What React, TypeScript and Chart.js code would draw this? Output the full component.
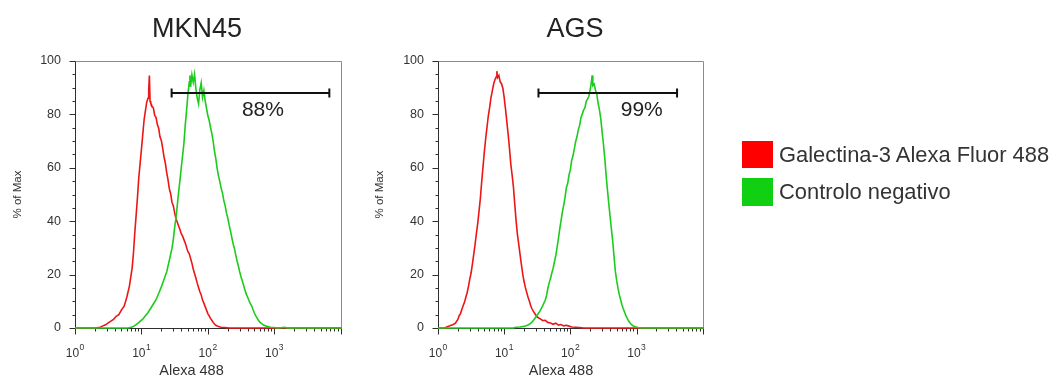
import React, { useEffect, useRef } from "react";
import { Chart, registerables } from "chart.js";

Chart.register(...registerables);

// ---------- text ----------
const PANEL_TITLES = ["MKN45", "AGS"];
const SERIES_NAMES = ["Galectina-3 Alexa Fluor 488", "Controlo negativo"];
const X_AXIS_TITLE = "Alexa 488";
const Y_AXIS_TITLE = "% of Max";

// ---------- axes ----------
const X_TICK_EXPONENTS = [0, 1, 2, 3];
const X_MIN_EXP = 0;
const X_MAX_EXP = 4.02;
const Y_MIN = 0;
const Y_MAX = 100;
const Y_LABEL_STEP = 20;
const Y_MINOR_STEP = 5;

// ---------- histograms: [log10(Alexa 488), % of Max] ----------
const MKN45_GALECTINA: [number, number][] = [
  [0, 0], [0.3, 0], [0.38, 0.3], [0.42, 0.8], [0.46, 1.2], [0.5, 1.9], [0.54, 2.6], [0.58, 3.2],
  [0.62, 4.4], [0.66, 5.0], [0.7, 6.8], [0.74, 8.2], [0.78, 11.5], [0.82, 15.8], [0.86, 22.4],
  [0.88, 28], [0.9, 35.6], [0.92, 42.1], [0.94, 48.8], [0.96, 56.2], [0.98, 61.5], [1.0, 66.8],
  [1.02, 72.4], [1.04, 77.9], [1.06, 81.3], [1.08, 84.6], [1.1, 86.1], [1.11, 89.5], [1.12, 94.6],
  [1.13, 85.0], [1.14, 84.2], [1.16, 83.1], [1.18, 82.4], [1.2, 79.6], [1.22, 78.9], [1.24, 76.2],
  [1.26, 74.8], [1.28, 71.5], [1.3, 70.2], [1.32, 67.4], [1.34, 64.1], [1.36, 61.8], [1.38, 58.3],
  [1.4, 55.6], [1.42, 52.2], [1.44, 50.3], [1.46, 47.1], [1.48, 45.8], [1.5, 43.2], [1.52, 41.0],
  [1.54, 39.6], [1.56, 38.2], [1.58, 36.9], [1.6, 35.3], [1.62, 34.4], [1.64, 33.1], [1.66, 31.8],
  [1.68, 30.2], [1.7, 28.6], [1.72, 27.9], [1.74, 26.0], [1.76, 24.3], [1.78, 22.1], [1.8, 20.4],
  [1.82, 18.7], [1.84, 16.8], [1.86, 15.2], [1.88, 13.6], [1.9, 12.4], [1.92, 10.5], [1.94, 9.3],
  [1.96, 8.0], [1.98, 6.7], [2.0, 5.4], [2.02, 4.5], [2.04, 3.6], [2.06, 2.9], [2.08, 2.1],
  [2.1, 1.5], [2.12, 1.0], [2.16, 0.6], [2.2, 0.3], [2.26, 0.2], [2.32, 0], [4.02, 0],
];

const MKN45_CONTROLO: [number, number][] = [
  [0, 0], [0.8, 0], [0.86, 0.4], [0.9, 0.9], [0.94, 1.6], [0.98, 2.5], [1.02, 3.3], [1.06, 4.6],
  [1.1, 5.8], [1.14, 7.4], [1.18, 9.0], [1.22, 10.6], [1.26, 12.9], [1.3, 15.4], [1.34, 18.2],
  [1.38, 21.0], [1.42, 25.3], [1.46, 29.8], [1.48, 33.1], [1.5, 37.6], [1.52, 41.2], [1.54, 45.9],
  [1.56, 50.8], [1.58, 55.3], [1.6, 60.1], [1.62, 64.5], [1.64, 69.2], [1.66, 76.0], [1.68, 81.4],
  [1.7, 87.5], [1.72, 92.1], [1.73, 94.6], [1.74, 90.3], [1.76, 94.8], [1.78, 92.0], [1.8, 95.0],
  [1.82, 89.6], [1.84, 86.2], [1.86, 84.0], [1.88, 89.3], [1.9, 91.8], [1.92, 86.4], [1.94, 89.0],
  [1.96, 85.1], [1.98, 82.3], [2.0, 79.6], [2.02, 77.8], [2.04, 75.1], [2.06, 72.9], [2.08, 70.0],
  [2.1, 66.2], [2.12, 63.4], [2.14, 59.8], [2.16, 57.0], [2.18, 54.9], [2.2, 52.4], [2.22, 50.6],
  [2.24, 47.8], [2.26, 45.9], [2.28, 43.1], [2.3, 41.2], [2.32, 38.7], [2.34, 36.5], [2.36, 34.0],
  [2.38, 31.6], [2.4, 29.8], [2.42, 27.4], [2.44, 25.1], [2.46, 23.2], [2.48, 21.0], [2.5, 19.1],
  [2.52, 17.6], [2.54, 15.8], [2.56, 14.1], [2.58, 12.6], [2.6, 11.5], [2.62, 10.2], [2.64, 9.1],
  [2.66, 8.3], [2.68, 6.9], [2.7, 5.6], [2.72, 4.6], [2.74, 3.8], [2.76, 3.0], [2.78, 2.3],
  [2.8, 1.8], [2.84, 1.1], [2.88, 0.7], [2.94, 0.3], [3.0, 0.2], [3.06, 0], [3.16, 0.3], [3.2, 0],
  [4.02, 0],
];

const AGS_GALECTINA: [number, number][] = [
  [0, 0], [0.1, 0], [0.14, 0.5], [0.18, 0.8], [0.22, 1.2], [0.26, 1.7], [0.3, 3.2], [0.32, 4.6],
  [0.34, 5.4], [0.36, 6.9], [0.38, 8.3], [0.4, 9.6], [0.42, 11.4], [0.44, 13.2], [0.46, 15.5],
  [0.48, 18.3], [0.5, 20.6], [0.52, 23.9], [0.54, 27.6], [0.56, 31.2], [0.58, 35.4], [0.6, 39.1],
  [0.62, 43.8], [0.64, 48.5], [0.66, 54.7], [0.68, 60.3], [0.7, 65.9], [0.72, 70.8], [0.74, 75.1],
  [0.76, 79.4], [0.78, 82.5], [0.8, 86.2], [0.82, 88.7], [0.84, 91.3], [0.86, 93.0], [0.88, 94.1],
  [0.89, 96.2], [0.9, 93.8], [0.92, 94.6], [0.94, 92.2], [0.96, 91.5], [0.98, 89.8], [1.0, 86.4],
  [1.02, 82.1], [1.04, 77.3], [1.06, 72.6], [1.08, 67.4], [1.1, 61.5], [1.12, 57.3], [1.14, 52.8],
  [1.16, 46.5], [1.18, 40.2], [1.2, 35.1], [1.22, 31.4], [1.24, 27.6], [1.26, 23.8], [1.28, 20.3],
  [1.3, 17.5], [1.32, 15.2], [1.34, 13.4], [1.36, 11.6], [1.38, 10.1], [1.4, 8.4], [1.42, 7.2],
  [1.44, 6.3], [1.46, 5.5], [1.48, 4.8], [1.5, 4.1], [1.54, 3.5], [1.58, 2.8], [1.62, 2.9],
  [1.66, 2.1], [1.7, 1.9], [1.74, 1.4], [1.78, 1.8], [1.82, 1.1], [1.86, 1.3], [1.9, 0.8],
  [1.94, 1.0], [1.98, 0.7], [2.02, 0.4], [2.08, 0.3], [2.14, 0.2], [2.2, 0], [4.02, 0],
];

const AGS_CONTROLO: [number, number][] = [
  [0, 0], [1.14, 0], [1.18, 0.3], [1.24, 0.4], [1.3, 0.6], [1.34, 0.9], [1.38, 1.4], [1.42, 2.2],
  [1.46, 3.5], [1.5, 4.9], [1.54, 6.3], [1.58, 8.2], [1.62, 10.4], [1.64, 12.1], [1.66, 14.8],
  [1.68, 16.9], [1.7, 18.5], [1.72, 20.6], [1.74, 22.4], [1.76, 24.8], [1.78, 27.1], [1.8, 30.2],
  [1.82, 33.6], [1.84, 37.1], [1.86, 40.3], [1.88, 43.5], [1.9, 46.0], [1.92, 48.9], [1.94, 52.6],
  [1.96, 54.1], [1.98, 57.3], [2.0, 59.2], [2.02, 62.8], [2.04, 64.5], [2.06, 67.1], [2.08, 69.8],
  [2.1, 71.6], [2.12, 74.2], [2.14, 75.8], [2.16, 78.7], [2.18, 80.1], [2.2, 81.6], [2.22, 82.4],
  [2.24, 84.9], [2.26, 85.7], [2.28, 86.8], [2.3, 89.3], [2.32, 92.5], [2.33, 94.6], [2.34, 90.8],
  [2.36, 91.4], [2.38, 89.0], [2.4, 87.6], [2.42, 84.1], [2.44, 81.7], [2.46, 78.4], [2.48, 73.5],
  [2.5, 68.9], [2.52, 63.7], [2.54, 57.4], [2.56, 51.9], [2.58, 46.8], [2.6, 42.0], [2.62, 37.2],
  [2.64, 32.6], [2.66, 26.9], [2.68, 21.3], [2.7, 17.8], [2.72, 14.9], [2.74, 12.5], [2.76, 10.6],
  [2.78, 8.7], [2.8, 7.2], [2.82, 5.9], [2.84, 4.6], [2.86, 3.6], [2.88, 2.7], [2.9, 2.0],
  [2.92, 1.4], [2.94, 0.9], [2.98, 0.5], [3.02, 0.2], [3.08, 0], [4.02, 0],
];

// ---------- gates ----------
const GATE_LABELS = ["88%", "99%"];
const GATE_FROM = [28.5, 33];
const GATE_TO = [6750, 4100];
const GATE_LEVEL = [88, 88];
const GATE_LABEL_X = [675, 1200];
const GATE_LABEL_Y = [79.4, 79.4];

// ---------- style / layout ----------
const FONT = "'Liberation Sans', Arial, Helvetica, sans-serif";
const RED = "#ee1515";
const GREEN = "#1ccc1c";
const TEXT = "#333333";

Chart.defaults.font.family = FONT;

const PANELS = [
  { left: 0, width: 394, yWidth: 75, padRight: 52, xTitleShift: -17 },
  { left: 362, width: 426, yWidth: 76, padRight: 84, xTitleShift: -10 },
];

const toPoints = (pairs: [number, number][]) => pairs.map(([e, v]) => ({ x: Math.pow(10, e), y: v }));

const decor = {
  id: "panelDecor",
  beforeDatasetsDraw(chart: any) {
    const { ctx, chartArea: a } = chart;
    const xs = chart.scales.x;
    const ys = chart.scales.y;
    const L = Math.round(a.left) + 0.5;
    const R = Math.round(a.right) - 0.5;
    const T = Math.round(a.top) + 0.5;
    const B = Math.round(a.bottom) + 0.5;
    ctx.save();
    ctx.lineWidth = 1;
    ctx.strokeStyle = "#8c8c8c";
    ctx.beginPath();
    ctx.moveTo(L, T);
    ctx.lineTo(R, T);
    ctx.lineTo(R, B);
    ctx.stroke();
    ctx.strokeStyle = "#2e2e2e";
    ctx.beginPath();
    ctx.moveTo(L, T);
    ctx.lineTo(L, B);
    ctx.lineTo(R, B);
    // y ticks
    for (let v = Y_MIN; v <= Y_MAX; v += Y_MINOR_STEP) {
      const py = Math.round(ys.getPixelForValue(v)) + 0.5;
      const len = v % Y_LABEL_STEP === 0 ? 6 : 3;
      ctx.moveTo(L - len, py);
      ctx.lineTo(L, py);
    }
    // x ticks (log decades with minors)
    for (let k = 0; k <= 5; k++) {
      for (let d = 1; d <= 9; d++) {
        const v = d * Math.pow(10, k);
        if (v > xs.max) break;
        const px = Math.round(xs.getPixelForValue(v)) + 0.5;
        const len = d === 1 ? 6 : 3;
        ctx.moveTo(px, B);
        ctx.lineTo(px, B + len);
      }
    }
    ctx.stroke();
    ctx.restore();
  },
  afterDraw(chart: any, _args: any, opts: any) {
    const { ctx, chartArea: a } = chart;
    const xs = chart.scales.x;
    const ys = chart.scales.y;
    const i = opts.index;
    ctx.save();
    ctx.fillStyle = TEXT;
    ctx.textBaseline = "alphabetic";
    // x tick labels 10^n
    for (const e of X_TICK_EXPONENTS) {
      const px = xs.getPixelForValue(Math.pow(10, e));
      ctx.font = `12px ${FONT}`;
      const base = "10";
      const w1 = ctx.measureText(base).width;
      ctx.font = `8.5px ${FONT}`;
      const sup = String(e);
      const w2 = ctx.measureText(sup).width;
      const start = px - (w1 + w2 + 0.5) / 2;
      ctx.textAlign = "left";
      ctx.font = `12px ${FONT}`;
      ctx.fillText(base, start, a.bottom + 28.7);
      ctx.font = `8.5px ${FONT}`;
      ctx.fillText(sup, start + w1 + 0.5, a.bottom + 21.5);
    }
    // x axis title
    ctx.font = `14.5px ${FONT}`;
    ctx.textAlign = "center";
    ctx.fillText(X_AXIS_TITLE, (a.left + a.right) / 2 + opts.xTitleShift, a.bottom + 47);
    // gate
    const gy = Math.round(ys.getPixelForValue(GATE_LEVEL[i]));
    const gx1 = xs.getPixelForValue(GATE_FROM[i]);
    const gx2 = xs.getPixelForValue(GATE_TO[i]);
    ctx.strokeStyle = "#111111";
    ctx.lineWidth = 2;
    ctx.beginPath();
    ctx.moveTo(gx1, gy);
    ctx.lineTo(gx2, gy);
    ctx.moveTo(gx1, gy - 4.5);
    ctx.lineTo(gx1, gy + 4.5);
    ctx.moveTo(gx2, gy - 4.5);
    ctx.lineTo(gx2, gy + 4.5);
    ctx.stroke();
    ctx.fillStyle = "#222222";
    ctx.font = `21px ${FONT}`;
    ctx.textAlign = "center";
    ctx.fillText(GATE_LABELS[i], xs.getPixelForValue(GATE_LABEL_X[i]), ys.getPixelForValue(GATE_LABEL_Y[i]));
    // panel title
    ctx.font = `27px ${FONT}`;
    ctx.fillText(PANEL_TITLES[i], chart.width / 2, 37);
    ctx.restore();
  },
};

function Panel({ index }: { index: number }) {
  const ref = useRef<HTMLCanvasElement | null>(null);
  const p = PANELS[index];
  useEffect(() => {
    if (!ref.current) return;
    const galectina = index === 0 ? MKN45_GALECTINA : AGS_GALECTINA;
    const controlo = index === 0 ? MKN45_CONTROLO : AGS_CONTROLO;
    const chart = new Chart(ref.current, {
      type: "line",
      data: {
        datasets: [
          {
            label: SERIES_NAMES[0],
            data: toPoints(galectina),
            borderColor: RED,
            backgroundColor: RED,
            borderWidth: 1.6,
            pointRadius: 0,
            tension: 0,
            order: 1,
            clip: 3,
          },
          {
            label: SERIES_NAMES[1],
            data: toPoints(controlo),
            borderColor: GREEN,
            backgroundColor: GREEN,
            borderWidth: 1.6,
            pointRadius: 0,
            tension: 0,
            order: 0,
            clip: 3,
          },
        ],
      },
      options: {
        responsive: false,
        animation: false,
        events: [],
        layout: { padding: { left: 0, right: p.padRight, top: 61, bottom: 50 } },
        plugins: {
          legend: { display: false },
          title: { display: false },
          tooltip: { enabled: false },
          panelDecor: { index, xTitleShift: p.xTitleShift },
        } as any,
        scales: {
          x: {
            type: "logarithmic",
            display: false,
            min: Math.pow(10, X_MIN_EXP),
            max: Math.pow(10, X_MAX_EXP),
          },
          y: {
            type: "linear",
            min: Y_MIN,
            max: Y_MAX,
            grid: { display: false, drawTicks: false },
            border: { display: false },
            ticks: { stepSize: Y_LABEL_STEP, color: TEXT, font: { size: 12.5 }, padding: 14 },
            title: {
              display: true,
              text: Y_AXIS_TITLE,
              color: TEXT,
              font: { size: 11.5 },
              padding: { top: 10.5, bottom: 0 },
            },
            afterFit: (scale: any) => {
              scale.width = p.yWidth;
            },
          },
        },
      },
      plugins: [decor],
    });
    return () => chart.destroy();
  }, [index]);
  return (
    <canvas
      ref={ref}
      width={p.width}
      height={378}
      style={{ position: "absolute", left: p.left, top: 0, width: p.width, height: 378, display: "block" }}
    />
  );
}

export default function App() {
  return (
    <div
      style={{
        position: "absolute",
        left: 0,
        top: 0,
        width: 1050,
        height: 378,
        background: "#ffffff",
        overflow: "hidden",
        fontFamily: FONT,
      }}
    >
      <Panel index={0} />
      <Panel index={1} />
      <div style={{ position: "absolute", left: 742, top: 141, width: 31, height: 27, background: "#ff0000" }} />
      <div
        style={{
          position: "absolute",
          left: 779,
          top: 141,
          height: 27,
          lineHeight: "27px",
          fontSize: 21.9,
          color: TEXT,
          whiteSpace: "nowrap",
        }}
      >
        {SERIES_NAMES[0]}
      </div>
      <div style={{ position: "absolute", left: 742, top: 178, width: 31, height: 28, background: "#11d011" }} />
      <div
        style={{
          position: "absolute",
          left: 779,
          top: 178,
          height: 28,
          lineHeight: "28px",
          fontSize: 21.9,
          color: TEXT,
          whiteSpace: "nowrap",
        }}
      >
        {SERIES_NAMES[1]}
      </div>
    </div>
  );
}
